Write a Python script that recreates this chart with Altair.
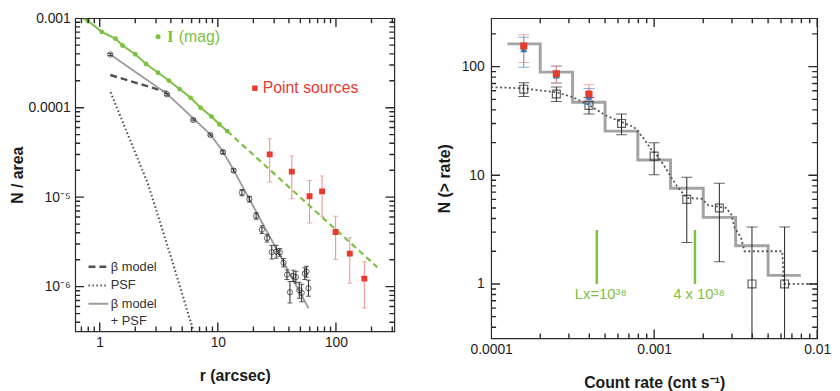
import altair as alt
import pandas as pd

# ================= LEFT PANEL : radial profile =================
# I (mag) surface-brightness profile (green)
mag_r = [0.794, 1.04, 1.36, 1.56, 2.0, 2.47, 3.12, 3.85, 4.76, 5.89, 7.14, 8.83, 10.3, 12.0]
mag_n = [9.35e-4, 7.05e-4, 5.91e-4, 4.96e-4, 3.96e-4, 3.08e-4, 2.46e-4, 2.01e-4,
         1.61e-4, 1.29e-4, 1.0e-4, 7.98e-5, 6.53e-5, 5.48e-5]
mag_line_r = [0.72] + mag_r
mag_line_n = [1.0e-3] + mag_n
mag_ext_r = [12.0, 224.0]
mag_ext_n = [5.48e-5, 1.65e-6]

# X-ray radial profile (black open circles)
obs_r = [1.229, 3.71, 6.20, 8.65, 11.05, 13.6, 16.0, 18.5, 21.1, 23.6, 26.1, 28.6,
         31.2, 33.5, 36.0, 38.5, 40.8, 43.5, 45.8, 48.9, 51.3, 54.5, 56.4, 58.5]
obs_n = [3.93e-4, 1.41e-4, 7.28e-5, 4.96e-5, 3.19e-5, 1.98e-5, 1.125e-5, 9.52e-6,
         6.17e-6, 4.33e-6, 3.49e-6, 2.43e-6, 2.46e-6, 2.42e-6, 1.85e-6, 1.36e-6,
         8.65e-7, 1.32e-6, 1.28e-6, 9.12e-7, 8.5e-7, 1.40e-6, 1.47e-6, 9.6e-7]
obs_lo = [3.83e-4, 1.375e-4, 7.1e-5, 4.84e-5, 3.07e-5, 1.91e-5, 1.036e-5, 8.83e-6,
          5.68e-6, 3.92e-6, 3.16e-6, 2.04e-6, 2.08e-6, 2.19e-6, 1.66e-6, 1.20e-6,
          6.57e-7, 1.14e-6, 1.10e-6, 7.41e-7, 6.78e-7, 1.20e-6, 1.27e-6, 7.8e-7]
obs_hi = [4.03e-4, 1.445e-4, 7.46e-5, 5.09e-5, 3.31e-5, 2.06e-5, 1.222e-5, 1.026e-5,
          6.70e-6, 4.78e-6, 3.86e-6, 2.89e-6, 2.91e-6, 2.67e-6, 2.06e-6, 1.54e-6,
          1.14e-6, 1.53e-6, 1.49e-6, 1.12e-6, 1.065e-6, 1.63e-6, 1.69e-6, 1.18e-6]

# Point sources (red squares)
ps_r = [27.5, 42.3, 59.8, 76.3, 99.4, 131.0, 174.0]
ps_n = [3.01e-5, 1.93e-5, 1.025e-5, 1.16e-5, 4.09e-6, 2.34e-6, 1.23e-6]
ps_lo = [1.48e-5, 9.59e-6, 5.13e-6, 6.11e-6, 2.01e-6, 1.09e-6, 5.77e-7]
ps_hi = [4.49e-5, 2.88e-5, 1.54e-5, 1.72e-5, 6.11e-6, 3.52e-6, 1.90e-6]

# Model curves
beta_r = [1.229, 3.71]
beta_n = [2.32e-4, 1.49e-4]
psf_r = [1.236, 1.749, 2.556, 3.93, 6.36]
psf_n = [1.49e-4, 4.84e-5, 1.42e-5, 2.34e-6, 2.9e-7]
bp_r = [1.229, 3.71, 6.20, 8.65, 11.05, 13.6, 58.7]
bp_n = [3.93e-4, 1.43e-4, 7.59e-5, 5.02e-5, 3.24e-5, 2.01e-5, 5.73e-7]
model_names = ["β model", "PSF", "β model + PSF", "+ PSF"]

# Left axes ticks
lx_major = [1, 10, 100]
lx_major_lab = ["1", "10", "100"]
lx_minor = [0.7, 0.8, 0.9, 2, 3, 4, 5, 6, 7, 8, 9, 20, 30, 40, 50, 60, 70, 80, 90, 200, 300]
ly_major = [1e-3, 1e-4, 1e-5, 1e-6]
ly_major_lab = ["0.001", "0.0001", "10⁻⁵", "10⁻⁶"]
ly_minor = [4e-7, 5e-7, 6e-7, 7e-7, 8e-7, 9e-7, 2e-6, 3e-6, 4e-6, 5e-6, 6e-6, 7e-6,
            8e-6, 9e-6, 2e-5, 3e-5, 4e-5, 5e-5, 6e-5, 7e-5, 8e-5, 9e-5, 2e-4,
            3e-4, 4e-4, 5e-4, 6e-4, 7e-4, 8e-4, 9e-4]

# Left annotations (data coordinates)
ann_mag = {"x_dot": 3.12, "x_I": 3.71, "x_txt": 4.67, "y": 6.21e-4}
ann_ps = {"x_sq": 20.6, "x_txt": 24.0, "y": 1.65e-4}

# ================= RIGHT PANEL : cumulative counts =================
rate = [1.585e-4, 2.512e-4, 3.981e-4, 6.31e-4, 1.0e-3, 1.585e-3, 2.512e-3, 3.981e-3, 6.31e-3]
n_obs = [62, 56, 44, 30, 15, 6, 5, 1, 1]
n_lo = [53.0, 47.8, 36.6, 23.6, 10.1, 2.41, 1.60, 0.1, 0.1]
n_hi = [71.1, 64.9, 51.9, 36.6, 19.95, 9.6, 8.45, 3.35, 3.35]

red_rate = [1.585e-4, 2.512e-4, 3.981e-4]
red_n = [155, 86, 56]
red_lo = [109, 70, 49]
red_hi = [197, 102, 68]
blue_n = [145, 83, 53]
blue_lo = [98.5, 71, 45]
blue_hi = [186, 101, 63]

step_x = [1.26e-4, 2.0e-4, 3.16e-4, 5.0e-4, 7.94e-4, 1.26e-3, 2.0e-3, 3.16e-3, 5.0e-3, 7.94e-3]
step_n = [162, 89, 47, 25.5, 13.8, 7.6, 4.1, 2.25, 1.2, 1.2]

dot_x = [1.0e-4, 1.585e-4, 2.51e-4, 3.18e-4, 3.98e-4, 5.10e-4, 6.37e-4, 7.54e-4, 8.66e-4,
         9.50e-4, 1.043e-3, 1.15e-3, 1.25e-3, 1.38e-3, 1.585e-3, 1.95e-3, 2.15e-3, 2.77e-3,
         2.97e-3, 3.11e-3, 3.41e-3, 3.58e-3, 6.11e-3, 6.25e-3, 1.0e-2]
dot_n = [64.8, 63.1, 58.0, 52.3, 44.2, 35.3, 30.8, 27.7, 21.7, 17.6, 15.2, 12.3, 10.0, 7.94,
         6.18, 6.09, 5.3, 5.0, 4.36, 3.3, 2.67, 2.0, 2.0, 1.0, 1.0]

lx_x = [4.45e-4, 1.78e-3]
lx_lo = [1.0, 1.0]
lx_hi = [3.14, 3.14]
lx_text = ["Lx=10³⁸", "4 x 10³⁸"]

rx_major = [1e-4, 1e-3, 1e-2]
rx_major_lab = ["0.0001", "0.001", "0.01"]
rx_minor = [2e-4, 3e-4, 4e-4, 5e-4, 6e-4, 7e-4, 8e-4, 9e-4, 2e-3, 3e-3, 4e-3,
            5e-3, 6e-3, 7e-3, 8e-3, 9e-3]
ry_major = [1, 10, 100]
ry_major_lab = ["1", "10", "100"]
ry_minor = [0.4, 0.5, 0.6, 0.7, 0.8, 0.9, 2, 3, 4, 5, 6, 7, 8, 9, 20, 30, 40, 50, 60,
            70, 80, 90, 200]

# ================= styling =================
FONT = "Liberation Sans"
GREEN = "#7cc142"
RED = "#e63b2e"
RED_ERR = "#f08a84"
BLUE = "#2e78bd"
BLUE_ERR = "#4a92d2"
INK = "#222222"
FRAME = "#2a2a2a"
MAJ, MIN = 9, 5


def label_expr(values, labels):
    expr = "''"
    for v, l in zip(reversed(values), reversed(labels)):
        expr = f"(abs(datum.value / {v!r} - 1) < 0.01) ? '{l}' : ({expr})"
    return expr


def lab_axis(orient, values, labels, title, pad, tpad):
    return alt.Axis(orient=orient, values=values, labelExpr=label_expr(values, labels),
                    ticks=False, labelPadding=pad, title=title, titlePadding=tpad,
                    domain=False, grid=False, labelFlush=False, labelOverlap=False)


def xy(xs, ys, xaxis=None, yaxis=None):
    return dict(x=alt.X("x:Q", scale=xs, axis=xaxis), y=alt.Y("y:Q", scale=ys, axis=yaxis))


def errbars(xs, ys, xv, lo, hi, color, cap, width=1.0):
    d = pd.DataFrame({"x": xv, "lo": lo, "hi": hi})
    caps = pd.DataFrame({"x": list(xv) + list(xv), "y": list(lo) + list(hi)})
    rule = alt.Chart(d).mark_rule(color=color, strokeWidth=width, clip=True).encode(
        x=alt.X("x:Q", scale=xs, axis=None), y=alt.Y("lo:Q", scale=ys, axis=None), y2="hi:Q")
    tick = alt.Chart(caps).mark_tick(color=color, orient="horizontal", size=cap,
                                     thickness=width, clip=True).encode(**xy(xs, ys))
    return [rule, tick]


def inward_ticks(xs, ys, xdom, ydom, xmaj, xmin, ymaj, ymin):
    """Tick marks centred on each frame edge; clipping keeps only the inner half."""
    out = []
    for vals, ln in ((xmaj, MAJ), (xmin, MIN)):
        d = pd.DataFrame({"x": list(vals) * 2, "y": [ydom[0]] * len(vals) + [ydom[1]] * len(vals)})
        out.append(alt.Chart(d).mark_tick(color=FRAME, orient="vertical", size=2 * ln,
                                          thickness=1.4, opacity=1, clip=True).encode(**xy(xs, ys)))
    for vals, ln in ((ymaj, MAJ), (ymin, MIN)):
        d = pd.DataFrame({"y": list(vals) * 2, "x": [xdom[0]] * len(vals) + [xdom[1]] * len(vals)})
        out.append(alt.Chart(d).mark_tick(color=FRAME, orient="horizontal", size=2 * ln,
                                          thickness=1.4, opacity=1, clip=True).encode(**xy(xs, ys)))
    return out


# ---------------- left chart ----------------
LW, LH = 323, 317
XL_DOM, YL_DOM = [0.62, 312], [3.16e-7, 1e-3]
XL = alt.Scale(type="log", domain=XL_DOM, nice=False)
YL = alt.Scale(type="log", domain=YL_DOM, nice=False)

l_line = alt.Chart(pd.DataFrame({"x": mag_line_r, "y": mag_line_n})).mark_line(
    color=GREEN, strokeWidth=2, clip=True).encode(
    **xy(XL, YL, lab_axis("bottom", lx_major, lx_major_lab, "r (arcsec)", 4, 19),
         lab_axis("left", ly_major, ly_major_lab, "N / area", 5, 3)))
l_dots = alt.Chart(pd.DataFrame({"x": mag_r, "y": mag_n})).mark_circle(
    color=GREEN, size=24, opacity=1, clip=True).encode(**xy(XL, YL))
l_ext = alt.Chart(pd.DataFrame({"x": mag_ext_r, "y": mag_ext_n})).mark_line(
    color=GREEN, strokeWidth=2.2, strokeDash=[6, 4], clip=True).encode(**xy(XL, YL))

models = pd.concat([
    pd.DataFrame({"x": beta_r, "y": beta_n, "model": model_names[0]}),
    pd.DataFrame({"x": psf_r, "y": psf_n, "model": model_names[1]}),
    pd.DataFrame({"x": bp_r, "y": bp_n, "model": model_names[2]}),
])
legend = alt.Legend(title=None, orient="none", legendX=12, legendY=240, direction="vertical",
                    symbolType="stroke", symbolSize=400, labelFont=FONT, labelFontSize=13,
                    labelColor="#333333", rowPadding={"expr": "-4"}, labelOffset=1,
                    labelExpr="datum.label == 'β model + PSF' ? 'β model' : datum.label")
l_models = alt.Chart(models).mark_line(clip=True).encode(
    **xy(XL, YL),
    color=alt.Color("model:N", scale=alt.Scale(domain=model_names,
                    range=["#505050", "#505050", "#9c9c9c", "rgba(0,0,0,0)"]), legend=legend),
    strokeDash=alt.StrokeDash("model:N", scale=alt.Scale(domain=model_names,
                              range=[[7, 4], [1.5, 2.5], [1, 0], [1, 0]]), legend=legend),
    strokeWidth=alt.StrokeWidth("model:N", scale=alt.Scale(domain=model_names,
                                range=[2.4, 1.6, 2.4, 0.1]), legend=legend),
)

l_obs_err = errbars(XL, YL, obs_r, obs_lo, obs_hi, INK, 5)
l_obs = alt.Chart(pd.DataFrame({"x": obs_r, "y": obs_n})).mark_point(
    shape="circle", filled=False, color=INK, size=28, strokeWidth=1, clip=True).encode(**xy(XL, YL))
l_ps_err = errbars(XL, YL, ps_r, ps_lo, ps_hi, RED_ERR, 5)
l_ps = alt.Chart(pd.DataFrame({"x": ps_r, "y": ps_n})).mark_point(
    shape="square", filled=True, color=RED, size=36, opacity=1, clip=True).encode(**xy(XL, YL))

l_mag_dot = alt.Chart(pd.DataFrame({"x": [ann_mag["x_dot"]], "y": [ann_mag["y"]]})).mark_circle(
    color=GREEN, size=26, opacity=1).encode(**xy(XL, YL))
l_ps_sq = alt.Chart(pd.DataFrame({"x": [ann_ps["x_sq"]], "y": [ann_ps["y"]]})).mark_point(
    shape="square", filled=True, color=RED, size=30, opacity=1).encode(**xy(XL, YL))
l_I = alt.Chart(pd.DataFrame({"x": [ann_mag["x_I"]], "y": [ann_mag["y"]], "t": ["I"]})).mark_text(
    font="Liberation Serif", fontWeight="bold", fontSize=17, color=GREEN, align="left",
    baseline="middle").encode(**xy(XL, YL), text="t:N")
l_mag_t = alt.Chart(pd.DataFrame({"x": [ann_mag["x_txt"]], "y": [ann_mag["y"]], "t": ["(mag)"]})).mark_text(
    font=FONT, fontSize=16, color=GREEN, align="left", baseline="middle").encode(**xy(XL, YL), text="t:N")
l_ps_t = alt.Chart(pd.DataFrame({"x": [ann_ps["x_txt"]], "y": [ann_ps["y"]], "t": ["Point sources"]})).mark_text(
    font=FONT, fontSize=16, color=RED, align="left", baseline="middle").encode(**xy(XL, YL), text="t:N")

left = alt.layer(
    l_line, l_dots, l_ext, l_models, *l_obs_err, l_obs, *l_ps_err, l_ps,
    l_mag_dot, l_ps_sq, l_I, l_mag_t, l_ps_t,
    *inward_ticks(XL, YL, XL_DOM, YL_DOM, lx_major, lx_minor, ly_major, ly_minor)
).resolve_axis(x="independent", y="independent").properties(width=LW, height=LH)

# ---------------- right chart ----------------
RW, RH = 330, 324
XR_DOM, YR_DOM = [1e-4, 1e-2], [0.316, 279]
XR = alt.Scale(type="log", domain=XR_DOM, nice=False)
YR = alt.Scale(type="log", domain=YR_DOM, nice=False)

r_step = alt.Chart(pd.DataFrame({"x": step_x, "y": step_n})).mark_line(
    color="#a3a3a3", strokeWidth=3, interpolate="step-after", clip=True).encode(
    **xy(XR, YR, lab_axis("bottom", rx_major, rx_major_lab, "Count rate (cnt s⁻¹)", 4, 19),
         lab_axis("left", ry_major, ry_major_lab, "N (> rate)", 7, 9)))
r_dot = alt.Chart(pd.DataFrame({"x": dot_x, "y": dot_n})).mark_line(
    color="#555555", strokeWidth=1.8, strokeDash=[2, 2.5], clip=True).encode(**xy(XR, YR))
r_obs_err = errbars(XR, YR, rate, n_lo, n_hi, INK, 11)
r_obs = alt.Chart(pd.DataFrame({"x": rate, "y": n_obs})).mark_point(
    shape="square", filled=False, color=INK, size=64, strokeWidth=1.2, clip=True).encode(**xy(XR, YR))
r_blue_err = errbars(XR, YR, red_rate, blue_lo, blue_hi, BLUE_ERR, 11)
r_red_err = errbars(XR, YR, red_rate, red_lo, red_hi, RED_ERR, 11)
r_blue = alt.Chart(pd.DataFrame({"x": red_rate, "y": blue_n})).mark_point(
    shape="triangle-up", filled=True, color=BLUE, size=50, opacity=1, clip=True).encode(**xy(XR, YR))
r_red = alt.Chart(pd.DataFrame({"x": red_rate, "y": red_n})).mark_point(
    shape="square", filled=True, color=RED, size=52, opacity=1, clip=True).encode(**xy(XR, YR))
lx_df = pd.DataFrame({"x": lx_x, "lo": lx_lo, "hi": lx_hi, "t": lx_text})
r_lx = alt.Chart(lx_df).mark_rule(color=GREEN, strokeWidth=2.5).encode(
    x=alt.X("x:Q", scale=XR, axis=None), y=alt.Y("lo:Q", scale=YR, axis=None), y2="hi:Q")
r_lx_t = alt.Chart(lx_df).mark_text(font=FONT, fontSize=15, color=GREEN, align="center",
                                    baseline="top", dx=4, dy=3).encode(
    x=alt.X("x:Q", scale=XR, axis=None), y=alt.Y("lo:Q", scale=YR, axis=None), text="t:N")

right = alt.layer(
    r_step, r_dot, *r_obs_err, r_obs, *r_blue_err, *r_red_err, r_blue, r_red, r_lx, r_lx_t,
    *inward_ticks(XR, YR, XR_DOM, YR_DOM, rx_major, rx_minor, ry_major, ry_minor)
).resolve_axis(x="independent", y="independent").properties(width=RW, height=RH)

chart = alt.hconcat(left, right, spacing=41).properties(padding=0).configure_view(
    stroke=FRAME, strokeWidth=1.2
).configure_axis(
    labelFont=FONT, labelFontSize=14, labelColor="#1a1a1a", titleFont=FONT, titleFontSize=16,
    titleFontWeight="bold", titleColor="#1a1a1a"
)

chart.save("out.html", embed_options={"renderer": "svg", "actions": False})
